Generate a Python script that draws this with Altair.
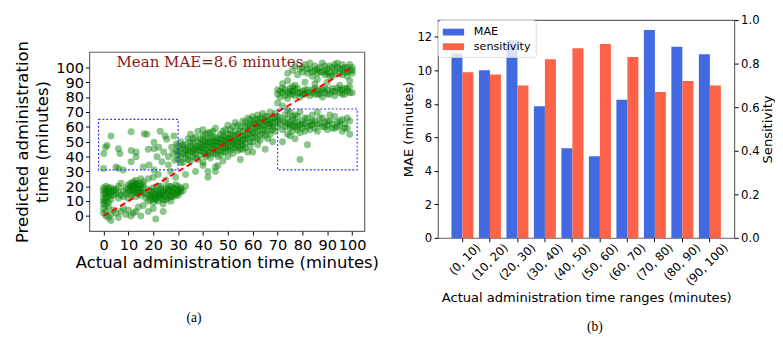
import altair as alt
import pandas as pd

# ---------------- panel (a): scatter of (actual, predicted) pairs ----------------
low_column = [(0,2),(0,5),(0,8),(0,12),(0,15),(0,17),(0,19),(1,0),(1,3),(1,10),(1,14),(1,16),(1,18),(1,20),
              (2,-1),(2,6),(2,13),(2,15),(2,17),(3,1),(3,11),(3,16),(3,19),(3,-3),(4,4),(4,14),(4,17)]
low_spread = [(5,2),(5,15),(5,18),(6,-1),(6,12),(6,16),(6,20),(7,3),(7,14),(7,22),(8,5),(8,13),(8,17),(9,1),
              (9,15),(9,19),(10,4),(10,12),(10,16),(12,2),(13,3),(11,0),(14,6),(20,5),(21,-2),(18,3),(16,7),
              (24,3),(15,0)]
low_blob = [(10,18),(10,21),(11,14),(11,17),(11,19),(11,22),(12,15),(12,18),(12,20),(12,23),(13,13),(13,16),
            (13,19),(13,21),(13,24),(14,15),(14,17),(14,20),(14,22),(15,14),(15,18),(15,21),(15,25),(16,16),
            (16,19),(16,23)]
low_band = [(17,12),(17,15),(18,10),(18,14),(18,18),(19,11),(19,13),(19,16),(20,9),(20,12),(20,15),(20,19),
            (21,11),(21,14),(21,17),(22,10),(22,13),(22,16),(22,20),(23,12),(23,15),(23,18),(24,11),(24,14),
            (24,17),(25,13),(25,16),(25,19),(26,12),(26,15),(26,18),(27,14),(27,17),(27,20),(28,13),(28,16),
            (28,19),(29,15),(29,18),(29,21),(30,14),(30,17),(30,20),(31,16),(31,19),(32,17),(33,20),(24,8),
            (27,10),(20,26),(22,28),(25,24),(27,30),(29,26),(18,25)]
low_extra = [(0,10),(1,7),(2,19),(1,12),(2,9),(3,14),(4,18),(11,20),(12,17),(13,22),(14,18),(15,16),(16,21),
             (12,21),(19,14),(20,17),(21,12),(22,15),(23,14),(24,16),(25,11),(26,17),(27,13),(28,18),(29,14),
             (30,16),(31,18),(26,20),(23,20)]
box_left_pts = [(1.4,47.4),(0.8,46.3),(0.1,42),(0,32),(3,53.9),(6,45.2),(6.6,42),(11.1,56.7),(11.1,44.1),
                (13.1,43),(13.1,39.8),(16.4,55.4),(17.4,55),(20.3,49.6),(20.3,45.2),(22.2,46.3),(22.8,57.1),
                (24.8,53.9),(25.4,51.7),(28.3,53.9),(24.2,43),(21.5,39.8),(26.1,39.8),(28,42),(28.7,37.6),
                (7.9,31),(11.1,36.5),(18.3,34.3),(20.3,31),(23.5,36.5),(26.1,34.3),(6,32.2),(27.4,46.3),
                (29.3,48.5),(29.3,44),(16,33),(18,45),(5,33)]
mid_band = [(30,38),(30,43),(30,47),(31,40),(31,45),(31,50),(32,36),(32,42),(32,46),(33,39),(33,44),(33,48),
            (34,41),(34,46),(34,52),(35,37),(35,43),(35,47),(35,55),(36,40),(36,45),(36,49),(37,42),(37,47),
            (37,53),(38,38),(38,44),(38,50),(38,57),(39,41),(39,46),(39,49),(40,36),(40,43),(40,48),(40,54),
            (40,58),(41,40),(41,45),(41,50),(41,55),(42,26),(42,44),(42,47),(42,52),(43,39),(43,46),(43,49),
            (43,56),(44,42),(44,48),(44,53),(45,33),(45,45),(45,50),(45,59),(46,40),(46,47),(46,52),(47,44),
            (47,49),(47,55),(48,37),(48,46),(48,51),(48,57),(49,43),(49,48),(49,53),(50,40),(50,45),(50,50),
            (50,55),(50,61),(51,47),(51,52),(51,58),(52,42),(52,49),(52,54),(53,46),(53,51),(53,57),(53,63),
            (54,44),(54,50),(54,55),(55,38),(55,48),(55,53),(55,60),(56,45),(56,51),(56,57),(56,64),(57,49),
            (57,54),(57,60),(58,43),(58,52),(58,58),(58,66),(59,47),(59,55),(59,62),(60,50),(60,56),(60,63),
            (60,67),(61,53),(61,59),(61,65),(62,48),(62,57),(62,62),(62,68),(63,51),(63,60),(63,66),(64,55),
            (64,61),(64,69),(65,45),(65,58),(65,64),(66,52),(66,62),(66,67),(67,55),(67,60),(67,65),(67,70),
            (68,50),(68,58),(68,63),(69,57),(69,66),(69,69),(70,60),(70,64),(37,30),(33,28),(46,34),(60,43),
            (40,34),(42,30),(45,30)]
mid_extra = [(30,41),(31,36),(32,48),(33,42),(34,38),(34,44),(35,50),(36,43),(36,52),(37,39),(37,45),(38,47),
             (39,44),(39,52),(40,46),(40,51),(41,42),(41,48),(42,41),(42,50),(42,56),(43,43),(43,52),(44,45),
             (44,50),(44,57),(45,42),(45,48),(45,53),(46,44),(46,50),(47,41),(47,47),(47,52),(48,43),(48,49),
             (48,54),(49,46),(49,51),(49,58),(50,47),(50,52),(51,44),(51,50),(51,55),(52,46),(52,51),(52,60),
             (53,48),(53,54),(54,47),(54,52),(54,61),(55,45),(55,50),(55,57),(56,48),(56,54),(57,46),(57,52),
             (57,63),(58,55),(58,61),(59,50),(59,58),(59,65),(60,53),(60,60),(61,56),(61,62),(62,52),(62,60),
             (62,65),(63,55),(63,63),(64,58),(64,65),(65,54),(65,61),(65,67),(66,57),(66,64),(67,62),(68,60),
             (68,66),(69,63),(70,67)]
upper_top = [(74,96),(76,98),(77,101),(78,95),(79,99),(80,97),(81,102),(82,96),(83,99),(84,94),(85,98),
             (85,101),(86,96),(87,100),(88,97),(88,103),(89,95),(90,99),(91,97),(91,101),(92,94),(93,98),
             (94,100),(94,103),(95,96),(96,99),(96,102),(97,97),(98,100),(98,94),(99,98),(99,102),(100,96),
             (100,100),(86,92),(83,103),(89,101),(93,102)]
upper_gap = [(72,89),(74,91),(77,88),(81,90),(85,89),(90,90),(95,88),(99,91),(97,86)]
upper_low = [(70,82),(70,85),(71,80),(71,84),(72,83),(72,86),(73,81),(73,85),(74,83),(74,79),(75,82),(75,86),
             (76,84),(77,81),(77,85),(78,83),(79,80),(80,84),(81,82),(82,85),(83,81),(84,83),(85,86),(86,82),
             (87,84),(88,80),(89,83),(90,85),(91,82),(92,84),(93,81),(94,86),(95,83),(96,85),(97,82),(98,84),
             (99,87),(100,83),(76,87),(70,76),(72,74)]
upper_extra = [(75,84),(76,82),(78,86),(79,83),(80,82),(81,85),(82,83),(84,85),(85,82),(86,85),(87,82),(88,85),
               (89,86),(90,82),(92,86),(93,84),(95,85),(96,82),(98,86),(99,83),(80,100),(82,99),(84,97),(86,99),
               (87,97),(89,98),(90,96),(92,100),(93,96),(95,99),(97,100),(98,97),(100,98),(91,94),(96,95)]
box_right_pts = [(71,62),(71,66),(72,58),(72,64),(73,60),(73,68),(74,55),(74,62),(74,66),(75,59),(75,63),
                 (75,70),(76,57),(76,61),(76,65),(77,60),(77,68),(78,58),(78,63),(78,67),(79,56),(79,61),
                 (79,70),(80,59),(80,64),(81,57),(81,62),(82,66),(82,60),(83,58),(83,63),(84,61),(84,68),
                 (85,59),(85,64),(86,57),(87,62),(88,60),(88,66),(89,63),(90,58),(90,61),(91,64),(92,62),
                 (93,59),(93,67),(94,63),(95,61),(96,57),(96,65),(97,62),(98,66),(98,59),(99,64),(72,50),
                 (75,54),(79,38),(82,48),(99,55),(77,52),(74,71),(86,70),(91,68)]
box_right_extra = [(73,63),(75,61),(76,67),(77,63),(78,60),(80,62),(81,66),(83,61),(84,64),(86,62),(87,66),
                   (89,60),(90,64),(92,59),(94,60),(95,64),(97,59)]

diag_actual = [0, 100]
diag_pred = [0, 100]
box_x1 = [-2, 70]
box_x2 = [30, 102]
box_y1 = [31, 31]
box_y2 = [65, 72]
note_text = "Mean MAE=8.6 minutes"

# ---------------- panel (b): per-range bars ----------------
ranges = ["(0, 10)", "(10, 20)", "(20, 30)", "(30, 40)", "(40, 50)",
          "(50, 60)", "(60, 70)", "(70, 80)", "(80, 90)", "(90, 100)"]
mae = [11.0, 10.0, 11.8, 7.85, 5.35, 4.87, 8.25, 12.4, 11.4, 10.96]
sensitivity = [0.76, 0.75, 0.70, 0.82, 0.87, 0.89, 0.83, 0.67, 0.72, 0.70]

# ---------------- build panel (a) ----------------
all_pts = (low_column + low_spread + low_blob + low_band + low_extra + box_left_pts + mid_band + mid_extra
           + upper_top + upper_gap + upper_low + upper_extra + box_right_pts + box_right_extra)
scatter_df = pd.DataFrame(all_pts, columns=["actual", "predicted"])
diag_df = pd.DataFrame({"actual": diag_actual, "predicted": diag_pred})
box_df = pd.DataFrame({"x1": box_x1, "x2": box_x2, "y1": box_y1, "y2": box_y2})
note_df = pd.DataFrame({"x": [5.2], "y": [103.5], "label": [note_text]})
cap_a_df = pd.DataFrame({"label": ["(a)"]})

W_A, H_A = 284, 185
ticks = list(range(0, 101, 10))
xs = alt.Scale(domain=[-5.7, 104.9], nice=False, zero=False)
ys = alt.Scale(domain=[-10.2, 110.4], nice=False, zero=False)
FONT = "DejaVu Sans"

x_axis_a = alt.Axis(values=ticks, title="Actual administration time (minutes)", grid=False,
                    labelOverlap=False, labelFontSize=15, titleFontSize=17, labelFont=FONT,
                    titleFont=FONT, titleFontWeight="normal", labelColor="#000", titleColor="#000",
                    tickColor="#000", tickSize=4, labelPadding=3, titlePadding=3, domain=False)
y_axis_a = alt.Axis(values=ticks, title=["Predicted administration", "time (minutes)"], grid=False,
                    labelOverlap=False, labelFontSize=15, titleFontSize=17, labelFont=FONT,
                    titleFont=FONT, titleFontWeight="normal", labelColor="#000", titleColor="#000",
                    tickColor="#000", tickSize=4, labelPadding=2, titlePadding=5, titleLineHeight=20,
                    domain=False)

pts = alt.Chart(scatter_df).mark_circle(size=52, color="green", opacity=0.45).encode(
    x=alt.X("actual:Q", scale=xs, axis=x_axis_a),
    y=alt.Y("predicted:Q", scale=ys, axis=y_axis_a),
)
diag = alt.Chart(diag_df).mark_line(color="red", strokeDash=[6, 4], strokeWidth=2).encode(
    x=alt.X("actual:Q", scale=xs, axis=x_axis_a), y=alt.Y("predicted:Q", scale=ys, axis=y_axis_a))
boxes = alt.Chart(box_df).mark_rect(fillOpacity=0, stroke="#3333ff", strokeDash=[2, 2],
                                    strokeWidth=1.2).encode(
    x=alt.X("x1:Q", scale=xs, axis=x_axis_a), x2="x2:Q",
    y=alt.Y("y1:Q", scale=ys, axis=y_axis_a), y2="y2:Q")
note = alt.Chart(note_df).mark_text(align="left", baseline="middle", font="DejaVu Serif",
                                    fontSize=15.5, color="#8B1A1A").encode(
    x=alt.X("x:Q", scale=xs, axis=x_axis_a), y=alt.Y("y:Q", scale=ys, axis=y_axis_a), text="label:N")
cap_a = alt.Chart(cap_a_df).mark_text(font="Liberation Serif", fontSize=14, color="#000").encode(
    x=alt.value(108), y=alt.value(H_A + 90), text="label:N")

panel_a = alt.layer(pts, diag, boxes, note, cap_a).properties(
    width=W_A, height=H_A, view=alt.ViewBackground(stroke="#666", strokeWidth=1.2))

spacer = alt.Chart(pd.DataFrame({"label": [""]})).mark_text().encode(
    x=alt.value(0), y=alt.value(0), text="label:N"
).properties(width=W_A, height=19, view=alt.ViewBackground(stroke="transparent"))

left = alt.vconcat(spacer, panel_a, spacing=0)

# ---------------- build panel (b) ----------------
mae_df = pd.DataFrame({"range": ranges, "series": ["MAE"] * len(ranges), "mae": mae})
sens_df = pd.DataFrame({"range": ranges, "series": ["sensitivity"] * len(ranges), "sens": sensitivity})
cap_b_df = pd.DataFrame({"label": ["(b)"]})

W_B, H_B = 306, 225
xb = alt.X("range:N", sort=ranges, scale=alt.Scale(paddingInner=0.2, paddingOuter=0.49),
           axis=alt.Axis(title="Actual administration time ranges (minutes)", labelAngle=-45,
                         labelAlign="right", labelBaseline="top", labelOffset=13, labelFontSize=12,
                         titleFontSize=13.5, labelFont=FONT, titleFont=FONT, titleFontWeight="normal",
                         labelColor="#000", titleColor="#000", tickColor="#000", tickSize=4,
                         labelPadding=0, titlePadding=4, domain=False))
xoff = alt.XOffset("series:N", scale=alt.Scale(domain=["MAE", "sensitivity"]))
color = alt.Color("series:N", scale=alt.Scale(domain=["MAE", "sensitivity"], range=["#4169E1", "#FF6347"]),
                  legend=alt.Legend(title=None, orient="none", legendX=0, legendY=0,
                                    fillColor="rgba(255,255,255,0.8)", strokeColor="#dddddd",
                                    cornerRadius=3, padding=5, labelFontSize=11.5, labelFont=FONT,
                                    labelColor="#000",
                                    symbolType="M-1,-0.47L1.93,-0.47L1.93,0.47L-1,0.47Z",
                                    symbolSize=225, symbolStrokeWidth=0, symbolOpacity=1,
                                    labelOffset=17, rowPadding=2))

bars_mae = alt.Chart(mae_df).mark_bar().encode(
    x=xb, xOffset=xoff,
    y=alt.Y("mae:Q", scale=alt.Scale(domain=[0, 13], nice=False),
            axis=alt.Axis(orient="left", values=list(range(0, 13, 2)), title="MAE (minutes)", grid=False,
                          labelFontSize=12, titleFontSize=13.5, labelFont=FONT, titleFont=FONT,
                          titleFontWeight="normal", labelColor="#000", titleColor="#000",
                          tickColor="#000", tickSize=4, labelPadding=2.5, titlePadding=2, domain=False)),
    color=color,
)
bars_sens = alt.Chart(sens_df).mark_bar().encode(
    x=xb, xOffset=xoff,
    y=alt.Y("sens:Q", scale=alt.Scale(domain=[0, 1], nice=False),
            axis=alt.Axis(orient="right", values=[0, 0.2, 0.4, 0.6, 0.8, 1.0], format=".1f",
                          title="Sensitivity", titleAngle=270, titleBaseline="top", grid=False,
                          labelFontSize=12, titleFontSize=13.5, labelFont=FONT, titleFont=FONT,
                          titleFontWeight="normal", labelColor="#000", titleColor="#000",
                          tickColor="#000", tickSize=4, labelPadding=2.5, titlePadding=2, domain=False)),
    color=color,
)
cap_b = alt.Chart(cap_b_df).mark_text(font="Liberation Serif", fontSize=14, color="#000").encode(
    x=alt.value(162), y=alt.value(H_B + 92), text="label:N")

panel_b = alt.layer(bars_mae, bars_sens, cap_b).resolve_scale(y="independent").properties(
    width=W_B, height=H_B, view=alt.ViewBackground(stroke="#666", strokeWidth=1.2))

chart = alt.hconcat(left, panel_b, spacing=21).resolve_legend(color="independent").properties(
    padding={"left": 5, "top": 0, "right": 0, "bottom": 0}
).configure(background="white")

chart.save("out.html", embed_options={"renderer": "svg", "actions": False})
